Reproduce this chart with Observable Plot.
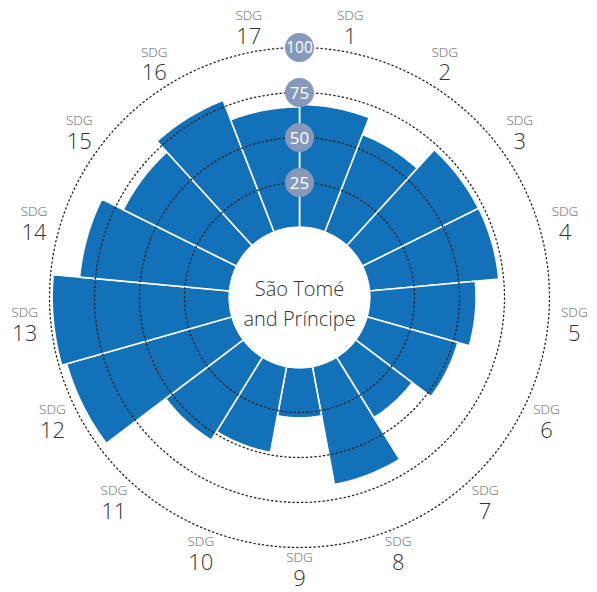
<!DOCTYPE html>
<html><head><meta charset="utf-8">
<script src="https://cdn.jsdelivr.net/npm/d3@7"></script>
<script src="https://cdn.jsdelivr.net/npm/@observablehq/plot@0.6"></script>
<style>
body{margin:0;background:#fff;}
#chart svg{display:block;font-family:"Open Sans",sans-serif;}
</style>
</head><body><div id="chart"></div>
<script>
// Data
const goals = ["1","2","3","4","5","6","7","8","9","10","11","12","13","14","15","16","17"];
const scores = [68.3,58.2,72.2,72.3,59.2,52.6,39.6,66.8,28.0,48.7,54.3,95.6,98.5,83.8,70.5,78.6,67.0];
const ringTicks = [25,50,75,100];
const country = "São Tomé\nand Príncipe";

const W = 597, H = 592, cx = 299, cy = 297;
const rad = d3.scaleLinear().domain([0,100]).range([70,250]);
const n = goals.length, step = 2*Math.PI/n;

const wedges = [];
goals.forEach((g,i)=>{
  const a0 = i*step, a1 = (i+1)*step, r1 = rad(scores[i]), r0 = rad(0);
  const K = 30;
  for (let k=0;k<=K;k++){ const a=a0+(a1-a0)*k/K; wedges.push({g, x:r1*Math.sin(a), y:r1*Math.cos(a)}); }
  for (let k=K;k>=0;k--){ const a=a0+(a1-a0)*k/K; wedges.push({g, x:r0*Math.sin(a), y:r0*Math.cos(a)}); }
});
const rings = [];
ringTicks.forEach(t=>{
  const r = rad(t), K = 240;
  for (let k=0;k<K;k++){ const a=2*Math.PI*k/K; rings.push({t, x:r*Math.sin(a), y:r*Math.cos(a)}); }
});
const lab = goals.map((g,i)=>{
  const a = (i+0.5)*step;
  const r = 276 - 5*Math.pow(Math.max(0,-Math.cos(a)),8);
  return {g, x:r*Math.sin(a), y:r*Math.cos(a)};
});

const chart = Plot.plot({
  width: W, height: H,
  margin: 0,
  x: {domain:[-cx, W-cx], range:[0,W], axis:null},
  y: {domain:[-(H-cy), cy], range:[H,0], axis:null},
  marks: [
    Plot.line(wedges, {x:"x", y:"y", z:"g", curve:"linear-closed", fill:"#1271b9", stroke:"white", strokeWidth:1.6}),
    Plot.line(rings, {x:"x", y:"y", z:"t", curve:"linear-closed", stroke:"#222", strokeWidth:1.3, strokeDasharray:"1.3 3"}),
    Plot.dot([0], {x:()=>0, y:()=>0, r:71, fill:"white"}),
    Plot.dot(ringTicks, {x:()=>0, y:d=>rad(d), r:14.5, fill:"#8799bb"}),
    Plot.text(ringTicks, {x:()=>0, y:d=>rad(d), text:d=>String(d), fill:"white", fontSize:d=>d===100?15.5:17, dy:1, letterSpacing:d=>d===100?-0.6:0}),
    Plot.text([country], {x:()=>0, y:()=>0, text:d=>d, fontSize:20, fill:"#333", lineHeight:1.5, fontWeight:300, dy:4}),
    Plot.text(lab, {x:"x", y:"y", text:()=>"SDG", dy:-10.5, fontSize:13.5, fill:"#666", fontWeight:300}),
    Plot.text(lab, {x:"x", y:"y", text:"g", dy:10.5, fontSize:22, fill:"#333", fontWeight:300})
  ]
});
document.getElementById("chart").appendChild(chart);
</script>
</body></html>
